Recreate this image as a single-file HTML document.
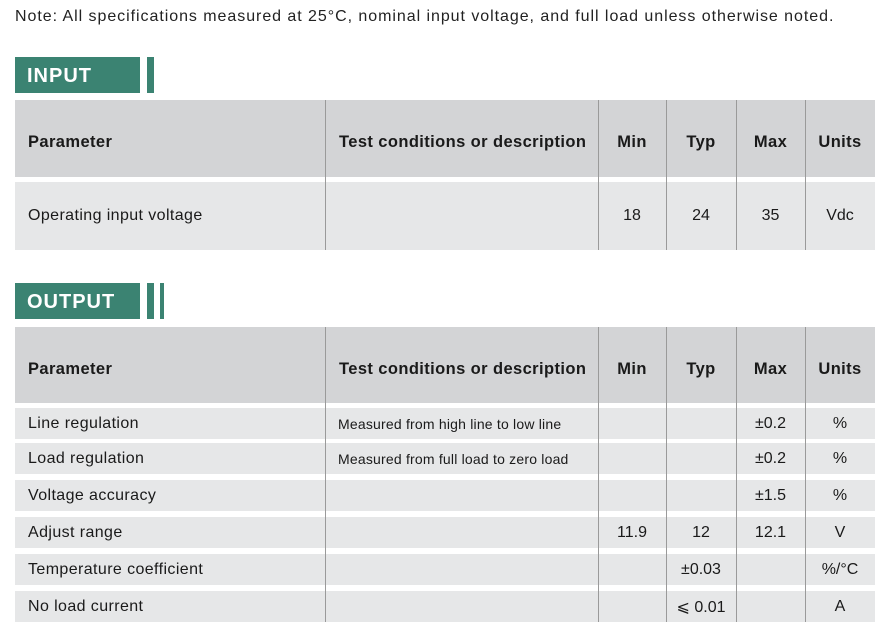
<!DOCTYPE html>
<html><head><meta charset="utf-8">
<style>
html,body{margin:0;padding:0;background:#fff;}
body{width:888px;height:639px;position:relative;overflow:hidden;font-family:"Liberation Sans",sans-serif;color:#1a1a1a;}
.abs{position:absolute;}
.note{left:15px;top:8px;font-size:16px;letter-spacing:0.95px;white-space:nowrap;color:#222;}
.badge{background:#3b8372;color:#fff;font-weight:bold;font-size:20px;letter-spacing:1px;box-sizing:border-box;padding-left:12px;line-height:38px;}
.bar{background:#3b8372;}
.cell{box-sizing:border-box;display:flex;align-items:center;white-space:nowrap;font-size:16px;}
.hd{background:#d3d4d6;font-weight:bold;}
.rw{background:#e6e7e8;}
.c{justify-content:center;}
.vl{background:#9a9a9a;width:1px;}
</style></head>
<body>
<div class="abs note">Note: All specifications measured at 25°C, nominal input voltage, and full load unless otherwise noted.</div>

<div class="abs badge" style="left:15px;top:57px;width:125px;height:36px;">INPUT</div>
<div class="abs bar" style="left:147px;top:57px;width:7px;height:36px;"></div>

<div class="abs badge" style="left:15px;top:283px;width:125px;height:36px;">OUTPUT</div>
<div class="abs bar" style="left:147px;top:283px;width:7px;height:36px;"></div>
<div class="abs bar" style="left:160px;top:283px;width:4px;height:36px;"></div>

<div id="tables"></div>

<script>
const colEdges = [15, 325, 598, 666, 736, 805, 875];
const headers = ["Parameter", "Test conditions or description", "Min", "Typ", "Max", "Units"];
const inputRows = [["Operating  input  voltage", "", "18", "24", "35", "Vdc"]];
const outputRows = [
  ["Line regulation", "Measured from high line to low line", "", "", "±0.2", "%"],
  ["Load regulation", "Measured from full load to zero load", "", "", "±0.2", "%"],
  ["Voltage accuracy", "", "", "", "±1.5", "%"],
  ["Adjust range", "", "11.9", "12", "12.1", "V"],
  ["Temperature coefficient", "", "", "±0.03", "", "%/°C"],
  ["No load current", "", "", "⩽ 0.01", "", "A"]
];
const root = document.getElementById('tables');

function mk(cls, x, y, w, h, txt) {
  const d = document.createElement('div');
  d.className = 'abs ' + cls;
  d.style.left = x + 'px'; d.style.top = y + 'px';
  d.style.width = w + 'px'; d.style.height = h + 'px';
  if (txt !== undefined) d.textContent = txt;
  root.appendChild(d);
  return d;
}

function table(prefix, headTop, headH, rows, rowTops, rowH) {
  const left = colEdges[0], right = colEdges[colEdges.length - 1];
  const h = mk('hd', left, headTop, right - left, headH);
  
  
  headers.forEach((t, i) => {
    const x0 = colEdges[i], x1 = colEdges[i + 1];
    const c = mk('cell hd' + (i > 1 ? ' c' : ''), x0, headTop, x1 - x0, headH, t);
    c.style.paddingLeft = i === 0 ? '13px' : (i === 1 ? '14px' : '0');
    c.style.paddingTop = '8px';
    c.style.fontSize = '16.5px';
    c.style.letterSpacing = '0.4px';
    
    
  });
  rows.forEach((r, ri) => {
    const y = rowTops[ri];
    const bg = mk('rw', left, y, right - left, rowH);
    
    
    r.forEach((t, i) => {
      const x0 = colEdges[i], x1 = colEdges[i + 1];
      const c = mk('cell' + (i > 1 ? ' c' : ''), x0, y, x1 - x0, rowH, t);
      if (i === 0) { c.style.paddingLeft = '13px'; c.style.fontSize = '16px'; c.style.letterSpacing = '0.4px'; }
      if (i === 1) { c.style.paddingLeft = '13px'; c.style.fontSize = '14px'; c.style.letterSpacing = '0.2px'; }
      
      
    });
  });
  const bottom = rowTops[rowTops.length - 1] + rowH;
  for (let i = 1; i < colEdges.length - 1; i++) {
    const v = mk('vl', colEdges[i], headTop, 1, bottom - headTop);
    
    
  }
}

table('input', 100, 77, inputRows, [182], 68);
table('output', 327, 76, outputRows, [408, 443, 480, 517, 554, 591], 31);
</script>
</body></html>
